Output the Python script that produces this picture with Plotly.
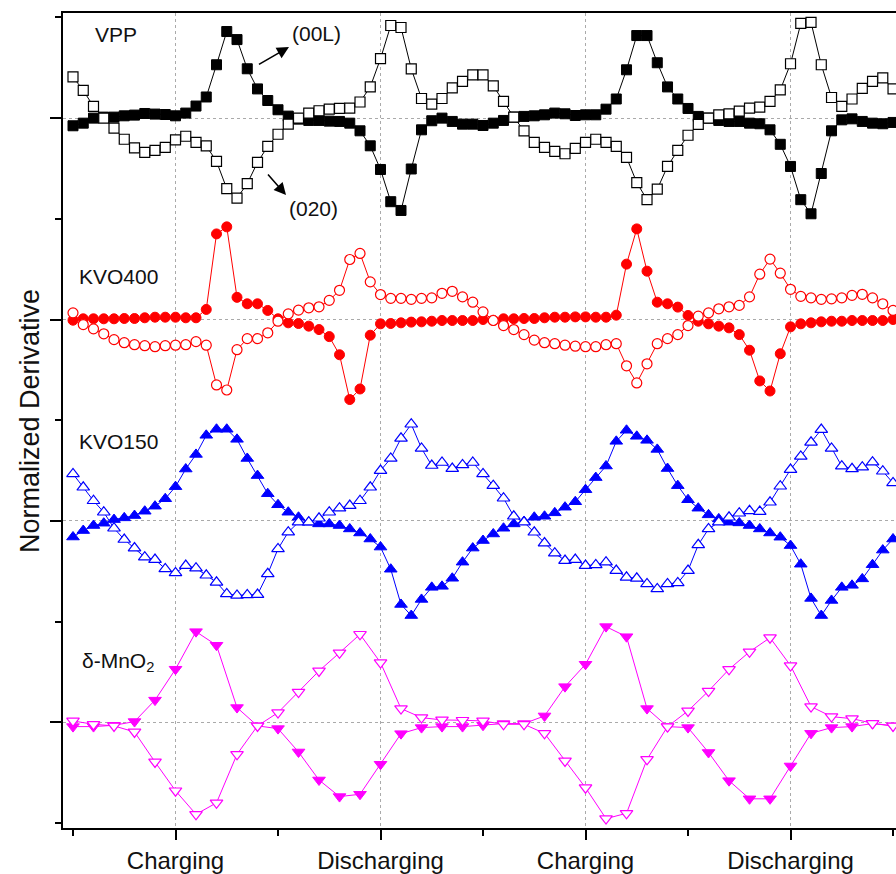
import plotly.graph_objects as go

# ---------------- data ----------------
x_fine = [round(0.1 * i, 1) for i in range(81)]
x_coarse = [round(0.2 * i, 1) for i in range(41)]

vpp_00L = [-0.076, -0.05, 0.0, 0.01, 0.01, 0.023, 0.03, 0.046, 0.04, 0.036,
           0.023, 0.05, 0.12, 0.21, 0.53, 0.86, 0.78, 0.49, 0.29, 0.175,
           0.083, 0.02, -0.01, -0.023, -0.023, -0.03, -0.033, -0.05, -0.126, -0.275,
           -0.51, -0.83, -0.917, -0.505, -0.116, -0.026, 0.0, -0.033, -0.06, -0.06,
           -0.073, -0.05, -0.023, 0.01, 0.017, 0.023, 0.033, 0.05, 0.043, 0.026,
           0.033, 0.033, 0.089, 0.19, 0.48, 0.82, 0.82, 0.55, 0.31, 0.19,
           0.096, 0.017, 0.0, -0.023, -0.033, -0.033, -0.05, -0.056, -0.116, -0.26,
           -0.48, -0.81, -0.95, -0.55, -0.126, -0.017, -0.007, -0.033, -0.05, -0.056, -0.043]
vpp_020 = [0.41, 0.275, 0.116, 0.0, -0.1, -0.21, -0.295, -0.34, -0.32, -0.29,
           -0.216, -0.18, -0.24, -0.275, -0.43, -0.70, -0.795, -0.65, -0.44, -0.28,
           -0.16, -0.06, 0.0, 0.05, 0.073, 0.09, 0.096, 0.1, 0.16, 0.31,
           0.59, 0.92, 0.9, 0.49, 0.195, 0.14, 0.195, 0.3, 0.364, 0.43,
           0.43, 0.32, 0.166, 0.01, -0.126, -0.24, -0.29, -0.33, -0.354, -0.3,
           -0.24, -0.21, -0.24, -0.28, -0.39, -0.64, -0.81, -0.705, -0.48, -0.32,
           -0.17, -0.063, 0.0, 0.033, 0.043, 0.07, 0.1, 0.11, 0.166, 0.28,
           0.54, 0.94, 0.95, 0.53, 0.205, 0.116, 0.19, 0.295, 0.364, 0.40, 0.29]

kvo400_fill = [-0.007, 0.007, 0.007, 0.007, 0.007, 0.01, 0.01, 0.017, 0.023, 0.023,
               0.023, 0.017, 0.017, 0.1, 0.85, 0.92, 0.22, 0.156, 0.156, 0.09,
               0.007, -0.033, -0.04, -0.066, -0.1, -0.17, -0.35, -0.795, -0.69, -0.156,
               -0.043, -0.04, -0.033, -0.026, -0.023, -0.017, -0.01, -0.01, -0.01, -0.01,
               0.0, -0.007, 0.007, 0.007, 0.01, 0.01, 0.017, 0.023, 0.023, 0.026,
               0.026, 0.023, 0.023, 0.043, 0.55, 0.9, 0.48, 0.172, 0.156, 0.123,
               0.04, -0.017, -0.043, -0.066, -0.083, -0.15, -0.305, -0.61, -0.71, -0.34,
               -0.073, -0.043, -0.033, -0.023, -0.017, -0.017, -0.01, -0.01, -0.01, -0.01, 0.0]
kvo400_open = [0.066, -0.05, -0.093, -0.142, -0.2, -0.23, -0.25, -0.26, -0.27, -0.26,
               -0.255, -0.25, -0.22, -0.255, -0.65, -0.70, -0.3, -0.19, -0.19, -0.132,
               -0.017, 0.056, 0.093, 0.116, 0.126, 0.19, 0.29, 0.596, 0.656, 0.374,
               0.248, 0.21, 0.21, 0.2, 0.21, 0.215, 0.26, 0.28, 0.225, 0.172,
               0.076, -0.01, -0.06, -0.1, -0.15, -0.205, -0.23, -0.24, -0.255, -0.265,
               -0.27, -0.27, -0.25, -0.24, -0.46, -0.63, -0.44, -0.24, -0.19, -0.15,
               -0.06, 0.033, 0.066, 0.106, 0.126, 0.14, 0.225, 0.45, 0.6, 0.46,
               0.3, 0.23, 0.215, 0.2, 0.205, 0.215, 0.24, 0.25, 0.215, 0.156, 0.09]

kvo150_fill = [-0.16, -0.096, -0.046, -0.023, 0.013, 0.03, 0.053, 0.096, 0.146, 0.22,
               0.34, 0.515, 0.66, 0.85, 0.91, 0.91, 0.81, 0.62, 0.45, 0.27,
               0.16, 0.086, 0.036, -0.013, -0.03, -0.03, -0.046, -0.08, -0.12, -0.18,
               -0.26, -0.48, -0.83, -0.94, -0.78, -0.66, -0.65, -0.57, -0.41, -0.27,
               -0.195, -0.13, -0.073, -0.03, -0.007, 0.036, 0.046, 0.08, 0.136, 0.19,
               0.31, 0.43, 0.545, 0.79, 0.9, 0.84, 0.8, 0.71, 0.52, 0.35,
               0.21, 0.126, 0.06, 0.02, -0.013, -0.02, -0.046, -0.08, -0.12, -0.162,
               -0.245, -0.43, -0.77, -0.94, -0.79, -0.66, -0.64, -0.576, -0.435, -0.29, -0.18]
kvo150_open = [0.467, 0.334, 0.2, 0.086, -0.073, -0.185, -0.27, -0.36, -0.384, -0.477,
               -0.517, -0.444, -0.47, -0.54, -0.61, -0.725, -0.74, -0.735, -0.732, -0.526,
               -0.278, -0.112, -0.013, -0.013, 0.026, 0.086, 0.126, 0.152, 0.2, 0.334,
               0.5, 0.62, 0.82, 0.96, 0.72, 0.55, 0.58, 0.52, 0.556, 0.58,
               0.467, 0.35, 0.225, 0.046, -0.013, -0.113, -0.22, -0.32, -0.394, -0.384,
               -0.444, -0.437, -0.41, -0.493, -0.56, -0.57, -0.626, -0.675, -0.626, -0.616,
               -0.493, -0.238, -0.08, -0.013, 0.036, 0.076, 0.1, 0.093, 0.185, 0.344,
               0.51, 0.64, 0.78, 0.907, 0.72, 0.543, 0.517, 0.533, 0.583, 0.493, 0.377]

mno2_fill = [-0.043, -0.043, -0.03, 0.007, 0.22, 0.527, 0.9, 0.765, 0.146, -0.036,
             -0.063, -0.295, -0.573, -0.738, -0.715, -0.417, -0.113, -0.053, -0.043, -0.043,
             -0.03, -0.013, -0.013, 0.063, 0.354, 0.576, 0.95, 0.85, 0.136, -0.043,
             -0.053, -0.3, -0.58, -0.76, -0.76, -0.434, -0.11, -0.053, -0.043, -0.013, -0.036]
mno2_open = [0.013, -0.02, -0.036, -0.096, -0.394, -0.68, -0.914, -0.8, -0.318, -0.036,
             0.096, 0.3, 0.51, 0.69, 0.874, 0.593, 0.136, 0.046, 0.023, 0.02,
             0.013, -0.02, -0.02, -0.11, -0.384, -0.65, -0.957, -0.904, -0.368, -0.043,
             0.113, 0.31, 0.526, 0.7, 0.84, 0.563, 0.156, 0.056, 0.036, -0.01, -0.036]

x_tick_vals = [1, 3, 5, 7]
x_tick_text = ["Charging", "Discharging", "Charging", "Discharging"]
baselines = {"VPP": 7, "KVO400": 5, "KVO150": 3, "MnO2": 1}

FONT = "Arial, Liberation Sans, sans-serif"

fig = go.Figure()


def add_pair(x, filled, opened, base, color, sym, size):
    fig.add_trace(go.Scatter(
        x=x, y=[v + base for v in filled], mode="lines+markers",
        line=dict(color=color, width=1),
        marker=dict(symbol=sym, size=size, color=color, line=dict(color=color, width=1)),
        showlegend=False, hoverinfo="skip"))
    fig.add_trace(go.Scatter(
        x=x, y=[v + base for v in opened], mode="lines+markers",
        line=dict(color=color, width=1),
        marker=dict(symbol=sym, size=size, color="white", line=dict(color=color, width=1.2)),
        showlegend=False, hoverinfo="skip"))


add_pair(x_fine, vpp_00L, vpp_020, baselines["VPP"], "black", "square", 10)
add_pair(x_fine, kvo400_fill, kvo400_open, baselines["KVO400"], "#ff0000", "circle", 10)
add_pair(x_fine, kvo150_fill, kvo150_open, baselines["KVO150"], "#0000ff", "triangle-up", 11)
add_pair(x_coarse, mno2_fill, mno2_open, baselines["MnO2"], "#ff00ff", "triangle-down", 11)

labels = [
    ("VPP", 0.195, 7.835),
    ("KVO400", 0.04, 5.43),
    ("KVO150", 0.04, 3.79),
    ("δ-MnO<sub>2</sub>", 0.07, 1.60),
    ("(00L)", 2.117, 7.845),
    ("(020)", 2.088, 6.107),
]
for t, lx, ly in labels:
    fig.add_annotation(x=lx, y=ly, text=t, showarrow=False, xanchor="left", yanchor="middle",
                       font=dict(family=FONT, size=21, color="#111"))

# arrows
fig.add_annotation(x=2.107, y=7.706, ax=1.785, ay=7.517, xref="x", yref="y", axref="x", ayref="y",
                   text=" ", showarrow=True, arrowhead=2, arrowsize=1.5, arrowwidth=1.6, arrowcolor="black")
fig.add_annotation(x=2.078, y=6.236, ax=1.873, ay=6.475, xref="x", yref="y", axref="x", ayref="y",
                   text=" ", showarrow=True, arrowhead=2, arrowsize=1.5, arrowwidth=1.6, arrowcolor="black")

# y title
fig.add_annotation(xref="paper", yref="paper", x=-0.0396, y=0.4994, text="Normalized Derivative",
                   textangle=-90, showarrow=False, xanchor="center", yanchor="middle",
                   font=dict(family=FONT, size=27, color="#111"))

fig.update_layout(
    width=896, height=874,
    margin=dict(l=63, r=0, t=13, b=46),
    plot_bgcolor="white", paper_bgcolor="white",
    font=dict(family=FONT, color="#111"),
    xaxis=dict(range=[-0.0976, 8.029], showline=True, linecolor="black", linewidth=2,
               mirror=True, ticks="outside", ticklen=10, tickwidth=2, tickcolor="black",
               tickvals=x_tick_vals, ticktext=x_tick_text, tickfont=dict(size=24, family=FONT, color="#111"),
               showgrid=True, gridcolor="#aaaaaa", gridwidth=1, griddash="3px,3px", zeroline=False,
               minor=dict(tickvals=[0, 2, 4, 6, 8], ticks="outside", ticklen=6, tickwidth=2,
                          tickcolor="black", showgrid=False)),
    yaxis=dict(range=[-0.05, 8.044], showline=True, linecolor="black", linewidth=2,
               mirror=False, ticks="outside", ticklen=11, tickwidth=2, tickcolor="black",
               tickvals=[1, 3, 5, 7], showticklabels=False,
               showgrid=True, gridcolor="#aaaaaa", gridwidth=1, griddash="3px,3px", zeroline=False,
               minor=dict(tickvals=[0, 2, 4, 6, 8], ticks="outside", ticklen=6, tickwidth=2,
                          tickcolor="black", showgrid=False)),
)

fig.write_html("out.html")
